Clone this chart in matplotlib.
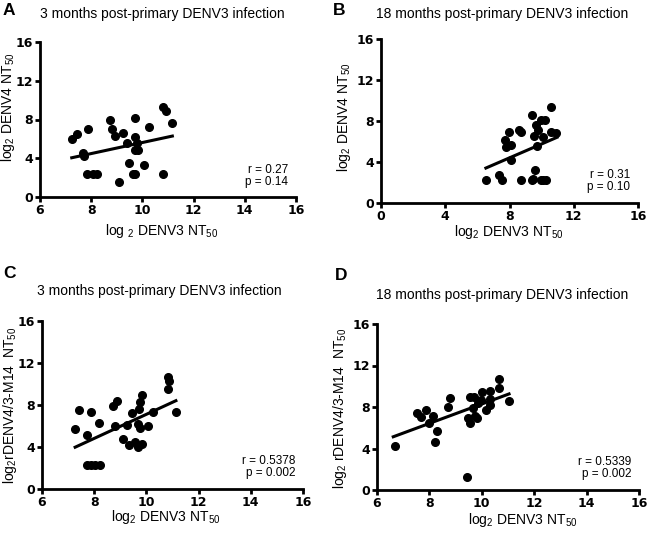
import matplotlib
matplotlib.use("Agg")
import matplotlib.pyplot as plt

plt.rcParams['font.family'] = ['Liberation Sans', 'DejaVu Sans']
plt.rcParams['mathtext.fontset'] = 'custom'
plt.rcParams['mathtext.rm'] = 'Liberation Sans'
plt.rcParams['mathtext.it'] = 'Liberation Sans:italic'

# ---- data ----
# A: 3 months, DENV3 vs DENV4
a_x = [7.24, 7.43, 7.67, 7.70, 7.89, 7.85, 8.06, 8.24, 8.73, 8.80, 8.93, 9.26, 9.39, 9.10,
       9.49, 9.71, 9.73, 9.77, 9.71, 9.84, 9.62, 9.71, 10.07, 10.26, 10.82, 10.91, 11.17, 10.82]
a_y = [6.02, 6.50, 4.50, 4.25, 6.97, 2.38, 2.38, 2.38, 8.00, 7.04, 6.30, 6.63, 5.60, 1.53,
       3.47, 8.16, 6.22, 5.60, 4.83, 4.83, 2.38, 2.38, 3.30, 7.24, 9.29, 8.84, 7.65, 2.38]
a_fit_x = [7.24, 11.17]
a_fit_y = [4.05, 6.29]

# B: 18 months, DENV3 vs DENV4
b_x = [6.53, 7.36, 7.54, 7.71, 7.98, 7.81, 8.08, 8.08, 8.60, 8.70, 8.70, 9.37, 9.47, 9.58,
       9.43, 9.62, 9.78, 9.95, 10.20, 9.53, 9.74, 10.09, 10.61, 10.61, 10.92, 10.09, 9.95, 10.25]
b_y = [2.28, 2.70, 2.28, 6.18, 6.90, 5.43, 5.69, 4.23, 7.15, 6.93, 2.28, 2.28, 2.37, 3.25,
       8.62, 7.58, 7.09, 8.07, 8.07, 6.50, 5.53, 6.40, 9.37, 6.96, 6.83, 2.28, 2.28, 2.28]
b_fit_x = [6.53, 10.96]
b_fit_y = [3.41, 6.41]

# C: 3 months, DENV3 vs rDENV4/3-M14
c_x = [7.27, 7.43, 7.71, 7.87, 7.71, 7.87, 8.03, 8.22, 8.20, 8.72, 8.89, 8.78, 9.10, 9.27,
       9.35, 9.46, 9.58, 9.67, 9.67, 9.73, 9.77, 9.77, 9.84, 9.84, 10.05, 10.24, 10.81, 10.81,
       10.87, 11.13]
c_y = [5.73, 7.55, 5.16, 7.29, 2.29, 2.29, 2.29, 2.29, 6.27, 7.87, 8.34, 6.02, 4.75, 6.11,
       4.20, 7.23, 4.52, 3.98, 6.21, 7.64, 8.25, 5.80, 4.27, 8.98, 5.96, 7.32, 9.52, 10.64,
       10.32, 7.29]
c_fit_x = [7.27, 11.13]
c_fit_y = [3.98, 8.41]

# D: 18 months, DENV3 vs rDENV4/3-M14
d_x = [6.68, 7.53, 7.68, 7.87, 7.97, 8.12, 8.28, 8.22, 8.71, 8.80, 9.55, 9.72, 9.65, 9.46,
       9.55, 9.74, 9.80, 9.84, 9.98, 10.02, 10.17, 10.30, 10.33, 10.30, 10.64, 10.67, 11.02, 9.45]
d_y = [4.20, 7.40, 7.08, 7.69, 6.47, 7.12, 5.73, 4.62, 7.99, 8.89, 8.94, 8.94, 7.94, 6.95,
       6.47, 7.18, 6.95, 8.36, 8.68, 9.42, 7.73, 8.20, 8.75, 9.58, 9.87, 10.67, 8.62, 1.30]
d_fit_x = [6.62, 11.04]
d_fit_y = [5.13, 9.26]

titles = ['3 months post-primary DENV3 infection', '18 months post-primary DENV3 infection',
          '3 months post-primary DENV3 infection', '18 months post-primary DENV3 infection']
letters = ['A', 'B', 'C', 'D']
stats = ['r = 0.27\np = 0.14', 'r = 0.31\np = 0.10', 'r = 0.5378\np = 0.002', 'r = 0.5339\np = 0.002']
xlabels = [r'log $_2$ DENV3 NT$_{50}$', r'log$_2$ DENV3 NT$_{50}$',
           r'log$_2$ DENV3 NT$_{50}$', r'log$_2$ DENV3 NT$_{50}$']
ylabels = [r'log$_2$ DENV4 NT$_{50}$', r'log$_2$ DENV4 NT$_{50}$',
           r'log$_2$rDENV4/3-M14  NT$_{50}$', r'log$_2$ rDENV4/3-M14  NT$_{50}$']
xlims = [(6, 16), (0, 16), (6, 16), (6, 16)]
xticks = [[6, 8, 10, 12, 14, 16], [0, 4, 8, 12, 16], [6, 8, 10, 12, 14, 16], [6, 8, 10, 12, 14, 16]]
yticks = [0, 4, 8, 12, 16]

W, H = 650, 536
# axes boxes in pixels: left, top, right, bottom
boxes = [(40, 42, 296, 197), (381, 39, 638, 203), (42, 321, 303, 489), (377, 324, 639, 490)]
letter_pos = [(3, 3), (333, 3), (3, 266), (335, 268)]
title_pos = [(162, 14), (502, 14), (159, 291), (502, 295)]
ylabel_xy = [(-0.09, 0.58), (-0.11, 0.52), (-0.09, 0.50), (-0.107, 0.49)]
xlabel_xy = [(0.477, -0.16), (0.498, -0.122), (0.475, -0.113), (0.557, -0.127)]

xs = [a_x, b_x, c_x, d_x]
ys = [a_y, b_y, c_y, d_y]
fxs = [a_fit_x, b_fit_x, c_fit_x, d_fit_x]
fys = [a_fit_y, b_fit_y, c_fit_y, d_fit_y]

fig = plt.figure(figsize=(W / 100, H / 100), dpi=100)

for i in range(4):
    l, t, r, b = boxes[i]
    ax = fig.add_axes([l / W, 1 - b / H, (r - l) / W, (b - t) / H])
    ax.plot(xs[i], ys[i], 'o', color='black', markersize=5.5, clip_on=False)
    ax.plot(fxs[i], fys[i], '-', color='black', linewidth=2.2)
    ax.set_xlim(*xlims[i])
    ax.set_ylim(0, 16)
    ax.set_xticks(xticks[i])
    ax.set_yticks(yticks)
    for s in ['top', 'right']:
        ax.spines[s].set_visible(False)
    for s in ['left', 'bottom']:
        ax.spines[s].set_linewidth(2.0)
    ax.tick_params(direction='out', length=3.8, width=2.0, pad=1)
    for lab in ax.get_xticklabels() + ax.get_yticklabels():
        lab.set_fontfamily('DejaVu Sans')
        lab.set_fontweight('bold')
        lab.set_fontsize(9)
    ax.set_xlabel(xlabels[i], fontsize=10)
    ax.set_ylabel(ylabels[i], fontsize=10)
    ax.xaxis.set_label_coords(*xlabel_xy[i])
    ax.yaxis.set_label_coords(*ylabel_xy[i])
    ax.text(0.97, 0.06, stats[i], transform=ax.transAxes, ha='right', va='bottom',
            fontsize=8.5, linespacing=1.0)
    fig.text(title_pos[i][0] / W, 1 - title_pos[i][1] / H, titles[i], ha='center',
             va='center', fontsize=10)
    fig.text(letter_pos[i][0] / W, 1 - letter_pos[i][1] / H, letters[i], ha='left',
             va='top', fontsize=12.5, fontweight='bold')

fig.savefig('out.png', dpi=100)
